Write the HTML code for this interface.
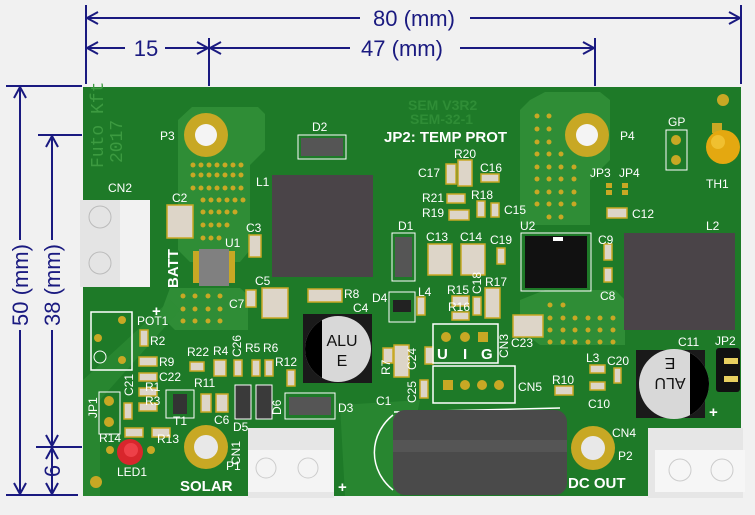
<!DOCTYPE html>
<html><head><meta charset="utf-8"><style>
html,body{margin:0;padding:0;background:#f2f2f2;}
svg{display:block;}
text{font-family:"Liberation Sans",sans-serif;}
.l{fill:#fff;font-size:12px;}
.b{fill:#fff;font-size:15px;font-weight:bold;}
.d{fill:#1a1a80;font-size:22px;}
</style></head><body>
<svg width="755" height="515" viewBox="0 0 755 515" xmlns="http://www.w3.org/2000/svg">
<defs>
<clipPath id="c4l"><rect x="300" y="310" width="22" height="80"/></clipPath>
<clipPath id="c11r"><rect x="690" y="345" width="30" height="80"/></clipPath>
</defs>
<rect width="755" height="515" fill="#f1f1f1"/>
<g stroke="#1a1a80" stroke-width="2" fill="none">
<line x1="86" y1="5" x2="86" y2="84"/>
<line x1="741" y1="5" x2="741" y2="84"/>
<line x1="86" y1="18" x2="360" y2="18"/><line x1="470" y1="18" x2="741" y2="18"/>
<polyline points="98,12 87,18 98,24"/><polyline points="729,12 740,18 729,24"/>
<line x1="209" y1="38" x2="209" y2="86"/>
<line x1="595" y1="38" x2="595" y2="86"/>
<line x1="86" y1="48" x2="125" y2="48"/><line x1="165" y1="48" x2="209" y2="48"/>
<line x1="209" y1="48" x2="350" y2="48"/><line x1="460" y1="48" x2="595" y2="48"/>
<polyline points="98,42 87,48 98,54"/><polyline points="197,42 208,48 197,54"/>
<polyline points="221,42 210,48 221,54"/><polyline points="583,42 594,48 583,54"/>
<line x1="6" y1="86" x2="82" y2="86"/>
<line x1="38" y1="135" x2="82" y2="135"/>
<line x1="36" y1="447" x2="82" y2="447"/>
<line x1="6" y1="495" x2="78" y2="495"/>
<line x1="20" y1="86" x2="20" y2="240"/><line x1="20" y1="330" x2="20" y2="495"/>
<line x1="52" y1="135" x2="52" y2="240"/><line x1="52" y1="330" x2="52" y2="447"/>
<line x1="52" y1="447" x2="52" y2="495"/>
<polyline points="14,98 20,87 26,98"/><polyline points="14,483 20,494 26,483"/>
<polyline points="46,147 52,136 58,147"/><polyline points="46,435 52,446 58,435"/>
<polyline points="46,459 52,448 58,459"/><polyline points="46,483 52,494 58,483"/>
</g>
<text class="d" x="414" y="26" text-anchor="middle">80 (mm)</text>
<text class="d" x="146" y="56" text-anchor="middle">15</text>
<text class="d" x="402" y="56" text-anchor="middle">47 (mm)</text>
<text class="d" transform="translate(28,285) rotate(-90)" text-anchor="middle">50 (mm)</text>
<text class="d" transform="translate(60,285) rotate(-90)" text-anchor="middle">38 (mm)</text>
<text class="d" transform="translate(60,471) rotate(-90)" text-anchor="middle">6</text>

<rect x="83" y="87" width="658" height="409" fill="#1e7a28"/>
<g fill="#2f8d36">
<path d="M178,120 L192,107 L258,107 L265,114 L265,150 L250,165 L250,250 L240,262 L190,262 L178,250 Z"/>
<path d="M530,100 L545,92 L600,92 L610,100 L610,160 L590,180 L590,225 L520,225 L520,110 Z"/>
<path d="M170,288 L240,288 L248,295 L248,330 L175,330 L160,315 Z"/>
<path d="M520,300 L545,290 L615,290 L625,300 L625,345 L540,345 L520,330 Z"/>
<path d="M83,380 L170,300 L180,310 L100,400 L100,496 L83,496 Z" opacity="0.6"/>
<path d="M340,405 L420,400 L400,496 L345,496 Z" opacity="0.6"/>
</g>
<text x="103" y="168" fill="#3c9a40" font-size="18" transform="rotate(-90 103 168)" style="font-family:'Liberation Mono',monospace">Futo Kft</text>
<text x="122" y="163" fill="#3c9a40" font-size="18" transform="rotate(-90 122 163)" style="font-family:'Liberation Mono',monospace">2017</text>
<text x="408" y="110" fill="#2f8d36" font-size="14" font-weight="bold">SEM V3R2</text>
<text x="410" y="124" fill="#2f8d36" font-size="14" font-weight="bold">SEM-32-1</text>
<text class="b" x="384" y="142" font-size="14">JP2: TEMP PROT</text>

<g fill="#c8a824">
<circle cx="193" cy="165" r="2.5"/><circle cx="201" cy="165" r="2.5"/><circle cx="209" cy="165" r="2.5"/><circle cx="217" cy="165" r="2.5"/><circle cx="225" cy="165" r="2.5"/><circle cx="233" cy="165" r="2.5"/><circle cx="241" cy="165" r="2.5"/>
<circle cx="193" cy="175" r="2.5"/><circle cx="201" cy="175" r="2.5"/><circle cx="209" cy="175" r="2.5"/><circle cx="217" cy="175" r="2.5"/><circle cx="225" cy="175" r="2.5"/><circle cx="233" cy="175" r="2.5"/><circle cx="241" cy="175" r="2.5"/>
<circle cx="193" cy="188" r="2.5"/><circle cx="201" cy="188" r="2.5"/><circle cx="209" cy="188" r="2.5"/><circle cx="217" cy="188" r="2.5"/><circle cx="225" cy="188" r="2.5"/><circle cx="233" cy="188" r="2.5"/><circle cx="241" cy="188" r="2.5"/>
<circle cx="203" cy="200" r="2.5"/><circle cx="211" cy="200" r="2.5"/><circle cx="219" cy="200" r="2.5"/><circle cx="227" cy="200" r="2.5"/><circle cx="235" cy="200" r="2.5"/><circle cx="243" cy="200" r="2.5"/>
<circle cx="203" cy="212" r="2.5"/><circle cx="211" cy="212" r="2.5"/><circle cx="219" cy="212" r="2.5"/><circle cx="227" cy="212" r="2.5"/><circle cx="235" cy="212" r="2.5"/>
<circle cx="203" cy="225" r="2.5"/><circle cx="211" cy="225" r="2.5"/><circle cx="219" cy="225" r="2.5"/><circle cx="227" cy="225" r="2.5"/>
<circle cx="203" cy="238" r="2.5"/><circle cx="211" cy="238" r="2.5"/><circle cx="219" cy="238" r="2.5"/>
<circle cx="183" cy="296" r="2.5"/><circle cx="195" cy="296" r="2.5"/><circle cx="208" cy="296" r="2.5"/><circle cx="220" cy="296" r="2.5"/>
<circle cx="183" cy="309" r="2.5"/><circle cx="195" cy="309" r="2.5"/><circle cx="208" cy="309" r="2.5"/><circle cx="220" cy="309" r="2.5"/>
<circle cx="183" cy="321" r="2.5"/><circle cx="195" cy="321" r="2.5"/><circle cx="208" cy="321" r="2.5"/><circle cx="220" cy="321" r="2.5"/>
<circle cx="537" cy="116" r="2.5"/><circle cx="549" cy="116" r="2.5"/><circle cx="537" cy="129" r="2.5"/><circle cx="549" cy="129" r="2.5"/>
<circle cx="537" cy="142" r="2.5"/><circle cx="549" cy="142" r="2.5"/>
<circle cx="537" cy="154" r="2.5"/><circle cx="549" cy="154" r="2.5"/><circle cx="561" cy="154" r="2.5"/>
<circle cx="537" cy="167" r="2.5"/><circle cx="549" cy="167" r="2.5"/><circle cx="561" cy="167" r="2.5"/><circle cx="574" cy="167" r="2.5"/>
<circle cx="537" cy="179" r="2.5"/><circle cx="549" cy="179" r="2.5"/><circle cx="561" cy="179" r="2.5"/><circle cx="574" cy="179" r="2.5"/>
<circle cx="537" cy="192" r="2.5"/><circle cx="549" cy="192" r="2.5"/><circle cx="561" cy="192" r="2.5"/><circle cx="574" cy="192" r="2.5"/>
<circle cx="537" cy="204" r="2.5"/><circle cx="549" cy="204" r="2.5"/><circle cx="561" cy="204" r="2.5"/><circle cx="574" cy="204" r="2.5"/>
<circle cx="549" cy="217" r="2.5"/><circle cx="561" cy="217" r="2.5"/>
<circle cx="550" cy="305" r="2.5"/><circle cx="563" cy="305" r="2.5"/>
<circle cx="550" cy="318" r="2.5"/><circle cx="563" cy="318" r="2.5"/><circle cx="575" cy="318" r="2.5"/><circle cx="588" cy="318" r="2.5"/><circle cx="600" cy="318" r="2.5"/><circle cx="613" cy="318" r="2.5"/>
<circle cx="550" cy="330" r="2.5"/><circle cx="563" cy="330" r="2.5"/><circle cx="575" cy="330" r="2.5"/><circle cx="588" cy="330" r="2.5"/><circle cx="600" cy="330" r="2.5"/><circle cx="613" cy="330" r="2.5"/>
<circle cx="550" cy="342" r="2.5"/><circle cx="563" cy="342" r="2.5"/><circle cx="575" cy="342" r="2.5"/><circle cx="588" cy="342" r="2.5"/><circle cx="600" cy="342" r="2.5"/><circle cx="613" cy="342" r="2.5"/>
</g>

<circle cx="206" cy="135" r="22" fill="#c8a824"/><circle cx="206" cy="135" r="11" fill="#f4f4f4"/>
<circle cx="587" cy="135" r="22" fill="#c8a824"/><circle cx="587" cy="135" r="11" fill="#f4f4f4"/>
<circle cx="206" cy="447" r="22" fill="#c8a824"/><circle cx="206" cy="447" r="12" fill="#e8e8e8"/>
<circle cx="593" cy="448" r="22" fill="#c8a824"/><circle cx="593" cy="448" r="12" fill="#e8e8e8"/>
<circle cx="96" cy="482" r="6" fill="#c8a824"/><circle cx="723" cy="100" r="6" fill="#c8a824"/>
<text class="l" x="160" y="140">P3</text><text class="l" x="620" y="140">P4</text>
<text class="l" x="226" y="470">P1</text><text class="l" x="618" y="460">P2</text>
<text class="l" x="612" y="437">CN4</text>
<text class="l" transform="translate(240,465) rotate(-90)">CN1</text>

<rect x="272" y="175" width="101" height="102" fill="#4a4448"/>
<rect x="624" y="233" width="111" height="97" fill="#4a4448"/>
<text class="l" x="256" y="186">L1</text><text class="l" x="706" y="230">L2</text>
<rect x="298" y="135" width="48" height="24" fill="none" stroke="#fff"/>
<rect x="301" y="138" width="42" height="18" fill="#555"/>
<text class="l" x="312" y="131">D2</text>
<rect x="521" y="233" width="70" height="58" fill="none" stroke="#fff"/>
<rect x="525" y="236" width="62" height="52" fill="#111"/>
<rect x="553" y="237" width="10" height="4" fill="#fff"/>
<text class="l" x="520" y="230">U2</text>
<rect x="193" y="251" width="42" height="32" fill="#c8a824"/>
<rect x="199" y="249" width="30" height="37" fill="#808080"/>
<text class="l" x="225" y="247">U1</text>
<text class="b" transform="translate(178,288) rotate(-90)">BATT</text>
<text class="b" x="152" y="316" font-size="24">+</text>

<rect x="392" y="233" width="23" height="48" fill="none" stroke="#fff"/>
<rect x="395" y="237" width="17" height="40" fill="#555"/>
<rect x="389" y="292" width="26" height="30" fill="none" stroke="#fff"/>
<rect x="393" y="300" width="18" height="12" fill="#222"/>

<rect x="80" y="200" width="70" height="87" fill="#e4e4e4"/>
<rect x="120" y="200" width="30" height="87" fill="#f2f2f2"/>
<circle cx="100" cy="217" r="11" fill="none" stroke="#bbb"/><circle cx="100" cy="263" r="11" fill="none" stroke="#bbb"/>
<text class="l" x="108" y="192">CN2</text>

<g fill="#ddd5c8" stroke="#c8a824" stroke-width="1.5">
<rect x="167" y="205" width="26" height="33"/>
<rect x="249" y="235" width="12" height="22"/>
<rect x="262" y="288" width="26" height="30"/>
<rect x="246" y="290" width="10" height="17"/>
<rect x="308" y="289" width="34" height="13"/>
<rect x="428" y="244" width="24" height="31"/>
<rect x="461" y="244" width="24" height="31"/>
<rect x="446" y="164" width="10" height="20"/>
<rect x="458" y="160" width="14" height="26"/>
<rect x="481" y="174" width="18" height="8"/>
<rect x="447" y="194" width="18" height="9"/>
<rect x="449" y="210" width="20" height="10"/>
<rect x="477" y="201" width="8" height="16"/>
<rect x="491" y="203" width="8" height="14"/>
<rect x="497" y="248" width="8" height="16"/>
<rect x="452" y="296" width="17" height="10"/>
<rect x="452" y="312" width="17" height="8"/>
<rect x="473" y="297" width="8" height="18"/>
<rect x="485" y="288" width="15" height="30"/>
<rect x="417" y="297" width="8" height="18"/>
<rect x="513" y="315" width="30" height="22"/>
<rect x="607" y="208" width="20" height="10"/>
<rect x="604" y="244" width="8" height="16"/>
<rect x="604" y="268" width="8" height="14"/>
<rect x="383" y="348" width="10" height="15"/>
<rect x="394" y="345" width="15" height="32"/>
<rect x="425" y="347" width="8" height="17"/>
<rect x="420" y="380" width="8" height="18"/>
<rect x="555" y="386" width="18" height="9"/>
<rect x="590" y="365" width="15" height="8"/>
<rect x="590" y="382" width="15" height="8"/>
<rect x="614" y="368" width="7" height="15"/>
<rect x="140" y="330" width="8" height="16"/>
<rect x="139" y="357" width="18" height="9"/>
<rect x="139" y="373" width="18" height="8"/>
<rect x="139" y="388" width="18" height="8"/>
<rect x="139" y="403" width="18" height="8"/>
<rect x="124" y="403" width="8" height="16"/>
<rect x="125" y="428" width="18" height="9"/>
<rect x="152" y="428" width="18" height="9"/>
<rect x="190" y="362" width="14" height="9"/>
<rect x="214" y="360" width="12" height="16"/>
<rect x="234" y="360" width="8" height="16"/>
<rect x="252" y="360" width="8" height="16"/>
<rect x="265" y="360" width="8" height="16"/>
<rect x="287" y="370" width="8" height="16"/>
<rect x="201" y="394" width="10" height="18"/>
<rect x="216" y="394" width="12" height="18"/>
</g>
<!-- JP3 JP4 pads -->
<g fill="#c8a824"><rect x="606" y="183" width="6" height="5"/><rect x="606" y="190" width="6" height="5"/><rect x="622" y="183" width="6" height="5"/><rect x="622" y="190" width="6" height="5"/></g>

<rect x="166" y="390" width="28" height="28" fill="none" stroke="#fff"/>
<rect x="173" y="394" width="14" height="20" fill="#333"/>
<rect x="235" y="385" width="16" height="34" fill="#3a3a3a" stroke="#fff"/>
<rect x="256" y="385" width="16" height="34" fill="#3a3a3a" stroke="#fff"/>
<rect x="285" y="393" width="50" height="26" fill="none" stroke="#fff"/>
<rect x="289" y="397" width="42" height="18" fill="#555"/>
<rect x="91" y="312" width="41" height="58" fill="none" stroke="#fff" stroke-width="1.5"/>
<circle cx="122" cy="320" r="4" fill="#c8a824"/><circle cx="98" cy="338" r="4" fill="#c8a824"/><circle cx="122" cy="360" r="4" fill="#c8a824"/>
<circle cx="100" cy="357" r="6" fill="none" stroke="#fff"/>
<rect x="99" y="392" width="21" height="42" fill="none" stroke="#fff"/>
<circle cx="109" cy="401" r="5" fill="#c8a824"/><circle cx="109" cy="422" r="5" fill="#c8a824"/>
<circle cx="110" cy="450" r="4" fill="#c8a824"/><circle cx="151" cy="450" r="4" fill="#c8a824"/>
<circle cx="130" cy="452" r="13" fill="#d8262c"/><circle cx="131" cy="450" r="7" fill="#ee4048"/>

<!-- C4 ALU -->
<rect x="303" y="314" width="69" height="69" fill="#1a1a1a"/>
<circle cx="338" cy="349" r="33" fill="#d8d8d8"/>
<circle cx="338" cy="349" r="33" fill="#000" clip-path="url(#c4l)"/>
<text x="342" y="346" font-size="16" text-anchor="middle" fill="#111">ALU</text>
<text x="342" y="366" font-size="16" text-anchor="middle" fill="#111">E</text>
<!-- C11 ALU -->
<rect x="636" y="350" width="69" height="68" fill="#1a1a1a"/>
<circle cx="674" cy="384" r="35" fill="#d8d8d8"/>
<circle cx="674" cy="384" r="35" fill="#000" clip-path="url(#c11r)"/>
<text x="670" y="388" font-size="16" text-anchor="middle" fill="#111" transform="rotate(180 670 383)">ALU</text>
<text x="670" y="368" font-size="16" text-anchor="middle" fill="#111" transform="rotate(180 670 363)">E</text>
<rect x="716" y="348" width="24" height="44" rx="3" fill="#111"/>
<rect x="724" y="358" width="14" height="6" fill="#e8d060"/><rect x="724" y="376" width="14" height="6" fill="#e8d060"/>
<text class="b" x="709" y="417" font-size="26">+</text>
<rect x="666" y="130" width="21" height="40" fill="none" stroke="#fff"/>
<circle cx="676" cy="140" r="5" fill="#c8a824"/><circle cx="676" cy="160" r="5" fill="#c8a824"/>
<text class="l" x="668" y="126">GP</text>
<rect x="712" y="123" width="10" height="10" fill="#c8a824"/>
<circle cx="723" cy="147" r="17" fill="#e4a810"/><circle cx="718" cy="142" r="7" fill="#f0c030"/>
<text class="l" x="706" y="188">TH1</text>

<rect x="433" y="324" width="65" height="39" fill="none" stroke="#fff" stroke-width="1.5"/>
<circle cx="446" cy="337" r="5" fill="#c8a824"/><circle cx="465" cy="337" r="5" fill="#c8a824"/><rect x="478" y="332" width="10" height="10" fill="#c8a824"/>
<text class="b" x="437" y="359" font-size="16">U</text><text class="b" x="463" y="359" font-size="16">I</text><text class="b" x="481" y="359" font-size="16">G</text>
<rect x="433" y="366" width="82" height="37" fill="none" stroke="#fff" stroke-width="1.5"/>
<rect x="443" y="380" width="10" height="10" fill="#c8a824"/><circle cx="465" cy="385" r="5" fill="#c8a824"/><circle cx="482" cy="385" r="5" fill="#c8a824"/><circle cx="499" cy="385" r="5" fill="#c8a824"/>

<path d="M393,415 A55,50 0 0 0 393,490" fill="none" stroke="#fff" stroke-width="1.5"/>
<line x1="394" y1="412" x2="560" y2="408" stroke="#fff" stroke-width="1.5"/>
<rect x="393" y="410" width="174" height="85" rx="12" fill="#4a4a4a"/>
<rect x="393" y="440" width="174" height="12" fill="#555"/>
<text class="b" x="338" y="492" font-size="26">+</text>

<rect x="248" y="428" width="86" height="70" fill="#e6e6e6"/>
<rect x="248" y="450" width="86" height="42" fill="#f4f4f4"/>
<circle cx="266" cy="468" r="10" fill="none" stroke="#ccc"/><circle cx="308" cy="468" r="10" fill="none" stroke="#ccc"/>
<rect x="648" y="428" width="95" height="70" fill="#e6e6e6"/>
<rect x="655" y="450" width="90" height="42" fill="#f6f6f6"/>
<circle cx="680" cy="470" r="11" fill="none" stroke="#ccc"/><circle cx="722" cy="470" r="11" fill="none" stroke="#ccc"/>

<text class="b" x="180" y="491">SOLAR</text>
<text class="b" x="568" y="488">DC OUT</text>

<text class="l" x="172" y="202">C2</text><text class="l" x="246" y="232">C3</text>
<text class="l" x="255" y="285">C5</text><text class="l" x="229" y="308">C7</text>
<text class="l" x="344" y="298">R8</text><text class="l" x="353" y="312">C4</text>
<text class="l" x="398" y="230">D1</text><text class="l" x="426" y="241">C13</text><text class="l" x="460" y="241">C14</text>
<text class="l" x="490" y="244">C19</text>
<text class="l" x="418" y="177">C17</text><text class="l" x="454" y="158">R20</text><text class="l" x="480" y="172">C16</text>
<text class="l" x="422" y="202">R21</text><text class="l" x="471" y="199">R18</text>
<text class="l" x="422" y="217">R19</text><text class="l" x="504" y="214">C15</text>
<text class="l" x="447" y="294">R15</text><text class="l" x="448" y="311">R16</text>
<text class="l" x="485" y="286">R17</text><text class="l" x="418" y="296">L4</text>
<text class="l" x="372" y="302">D4</text>
<text class="l" transform="translate(481,294) rotate(-90)">C18</text>
<text class="l" transform="translate(508,358) rotate(-90)">CN3</text>
<text class="l" x="511" y="347">C23</text>
<text class="l" x="518" y="391">CN5</text>
<text class="l" x="590" y="177">JP3</text><text class="l" x="619" y="177">JP4</text>
<text class="l" x="632" y="218">C12</text>
<text class="l" x="598" y="244">C9</text><text class="l" x="600" y="300">C8</text>
<text class="l" x="678" y="346">C11</text><text class="l" x="715" y="345">JP2</text>
<text class="l" x="586" y="362">L3</text><text class="l" x="607" y="365">C20</text>
<text class="l" x="552" y="384">R10</text><text class="l" x="588" y="408">C10</text>
<text class="l" x="376" y="405">C1</text><text class="l" x="338" y="412">D3</text>
<text class="l" transform="translate(390,375) rotate(-90)">R7</text>
<text class="l" transform="translate(416,370) rotate(-90)">C24</text>
<text class="l" transform="translate(416,403) rotate(-90)">C25</text>
<text class="l" x="137" y="325">POT1</text><text class="l" x="150" y="345">R2</text>
<text class="l" x="159" y="366">R9</text><text class="l" x="159" y="381">C22</text>
<text class="l" x="145" y="391">R1</text><text class="l" x="145" y="405">R3</text>
<text class="l" transform="translate(133,396) rotate(-90)">C21</text>
<text class="l" transform="translate(97,418) rotate(-90)">JP1</text>
<text class="l" x="99" y="442">R14</text><text class="l" x="157" y="443">R13</text>
<text class="l" x="117" y="476">LED1</text><text class="l" x="173" y="425">T1</text>
<text class="l" x="187" y="356">R22</text><text class="l" x="213" y="355">R4</text>
<text class="l" transform="translate(241,357) rotate(-90)">C26</text>
<text class="l" x="245" y="352">R5</text><text class="l" x="263" y="352">R6</text>
<text class="l" x="275" y="366">R12</text><text class="l" x="194" y="387">R11</text>
<text class="l" x="214" y="424">C6</text><text class="l" x="233" y="431">D5</text>
<text class="l" transform="translate(281,415) rotate(-90)">D6</text>
</svg>
</body></html>
